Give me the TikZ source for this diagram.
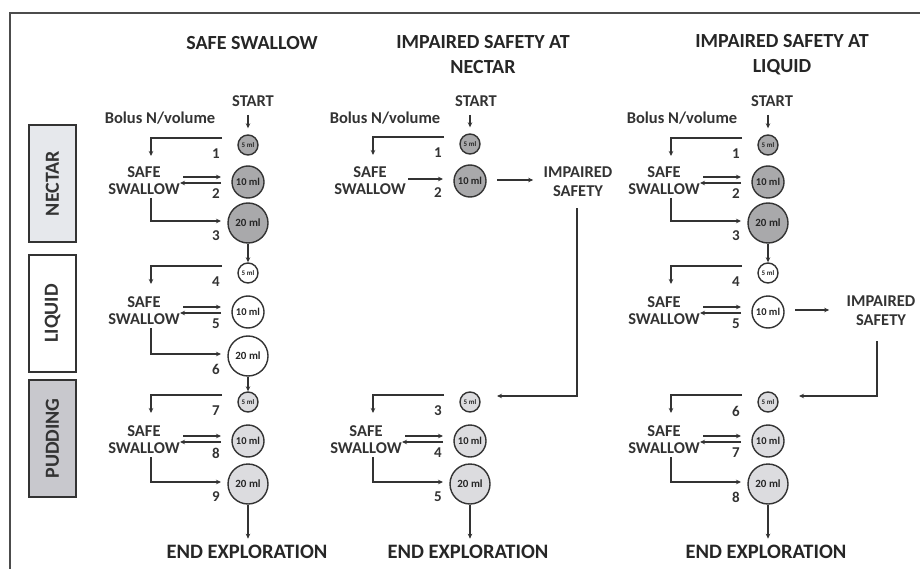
\documentclass[tikz,border=0pt]{standalone}
\usepackage{fontspec}
\setmainfont{Carlito}
\usetikzlibrary{arrows.meta,calc}
\definecolor{nec}{HTML}{A9A9AB}
\definecolor{pud}{HTML}{DCDCDF}
\definecolor{lnc}{HTML}{333333}
\definecolor{necbox}{HTML}{E6E8EC}
\definecolor{pudbox}{HTML}{C8C8CD}
\newcommand{\grp}[9]{%
 \node[circS,fill=#6] (#1s) at (#2,#3) {5 ml};
 \node[circM,fill=#6] (#1m) at (#2,#4) {10 ml};
 \node[circL,fill=#6] (#1l) at (#2,#5) {20 ml};
 \node[sw] (#1w) at ($(#1m)+(-104,-1)$) {SAFE\\SWALLOW};
 \node[num] (#1n1) at ($(#1s)+(-32,9)$) {#7};
 \node[num] (#1n2) at ($(#1m)+(-32,12)$) {#8};
 \node[num] (#1n3) at ($(#1l)+(-32,13)$) {#9};
 \draw[arr] ($(#1s)+(-26,-7)$) -| ($(#1s)+(-97,11)$);
 \draw[arr] ($(#1m)+(-65,-5)$) -- ($(#1m)+(-27,-5)$);
 \draw[arr] ($(#1m)+(-27,1)$) -- ($(#1m)+(-68,1)$);
 \draw[arr] ($(#1m)+(-97,16)$) |- ($(#1l)+(-27,-2)$);
}
\begin{document}
\begin{tikzpicture}[x=1pt,y=-1pt,
  lin/.style={draw=lnc, line width=1.2pt},
  arr/.style={lin, -{Stealth[length=5pt,width=4.5pt]}},
  cir/.style={circle, draw=lnc, line width=1.4pt, inner sep=0pt, text=black!85},
  circS/.style={cir, minimum size=20pt, font=\fontsize{7}{7}\selectfont\bfseries},
  circM/.style={cir, minimum size=32pt, font=\fontsize{10.5}{10}\selectfont\bfseries},
  circL/.style={cir, minimum size=40pt, font=\fontsize{11}{10}\selectfont\bfseries},
  ttl/.style={font=\fontsize{20}{25}\selectfont\bfseries, align=center, text=black!85},
  lbl/.style={font=\fontsize{16.5}{16}\selectfont\bfseries, text=black!80},
  sw/.style={font=\fontsize{16.5}{17}\selectfont\bfseries, align=center, text=black!80},
  imp/.style={font=\fontsize{16.5}{19}\selectfont\bfseries, align=center, text=black!80},
  num/.style={font=\fontsize{15}{15}\selectfont\bfseries, text=black!80},
  endt/.style={font=\fontsize{20.5}{20}\selectfont\bfseries, text=black!85},
  side/.style={draw=lnc, line width=1.5pt, minimum width=117pt, minimum height=47pt, rotate=90, font=\fontsize{20}{20}\selectfont\bfseries, text=black!80},
]
\useasboundingbox (0,0) rectangle (920,569);
% frame
\draw[draw=black!70, line width=1.4pt] (10,580) -- (10,13) -- (930,13);
% side boxes
\node[side, fill=necbox] (snec) at (52.5,183.5) {NECTAR};
\node[side, fill=white] (sliq) at (52.5,313.5) {LIQUID};
\node[side, fill=pudbox] (spud) at (52.5,438.5) {PUDDING};
% titles
\node[ttl] (t1) at (252,43) {SAFE SWALLOW};
\node[ttl] (t2) at (483,55) {IMPAIRED SAFETY AT\\NECTAR};
\node[ttl] (t3) at (782,55) {IMPAIRED SAFETY AT\\LIQUID};
% ---------- column 1
\node[lbl] (st1) at (253,101) {START};
\node[lbl] (bo1) at (160,118) {Bolus N/volume};
\grp{a}{248}{145}{182}{223}{nec}{1}{2}{3}
\grp{b}{248}{273}{312}{356}{white}{4}{5}{6}
\grp{c}{248}{402}{441}{484}{pud}{7}{8}{9}
\draw[arr, shorten <=5pt, shorten >=6pt] (st1.south -| as) -- (as.north);
\draw[arr] (al.south) -- (bs.north);
\draw[arr] (bl.south) -- (cs.north);
\node[endt] (en1) at (247,552) {END EXPLORATION};
\draw[arr] (cl.south) -- ($(cl.south |- en1.north)+(0,-3)$);
% ---------- column 2
\node[lbl] (st2) at (476,101) {START};
\node[lbl] (bo2) at (385,118) {Bolus N/volume};
\node[circS,fill=nec] (ds) at (470,144) {5 ml};
\node[circM,fill=nec] (dm) at (470,181) {10 ml};
\node[sw] (dw) at ($(dm)+(-100,0)$) {SAFE\\SWALLOW};
\node[num] (dn1) at ($(ds)+(-32,9)$) {1};
\node[num] (dn2) at ($(dm)+(-32,12)$) {2};
\draw[arr] ($(ds)+(-26,-7)$) -| ($(ds)+(-97,11)$);
\draw[arr] ($(dm)+(-62,-2)$) -- ($(dm)+(-27,-2)$);
\draw[arr, shorten <=5pt, shorten >=6pt] (st2.south -| ds) -- (ds.north);
\node[imp] (imp2) at (578,182) {IMPAIRED\\SAFETY};
\draw[arr] ($(dm)+(27,-1)$) -- ($(imp2.west)+(-7,-2)$);
\grp{e}{470}{402}{441}{484}{pud}{3}{4}{5}
\draw[arr] ($(imp2.south)+(-1,8)$) |- ($(es)+(27,-6)$);
\node[endt] (en2) at (468,552) {END EXPLORATION};
\draw[arr] (el.south) -- ($(el.south |- en2.north)+(0,-3)$);
% ---------- column 3
\node[lbl] (st3) at (772,101) {START};
\node[lbl] (bo3) at (682,118) {Bolus N/volume};
\grp{g}{768}{145}{182}{223}{nec}{1}{2}{3}
\node[circS,fill=white] (hs) at (768,273) {5 ml};
\node[circM,fill=white] (hm) at (768,312) {10 ml};
\node[sw] (hw) at ($(hm)+(-104,-1)$) {SAFE\\SWALLOW};
\node[num] (hn1) at ($(hs)+(-32,9)$) {4};
\node[num] (hn2) at ($(hm)+(-32,12)$) {5};
\draw[arr] ($(hs)+(-26,-7)$) -| ($(hs)+(-97,11)$);
\draw[arr] ($(hm)+(-65,-5)$) -- ($(hm)+(-27,-5)$);
\draw[arr] ($(hm)+(-27,1)$) -- ($(hm)+(-68,1)$);
\draw[arr, shorten <=5pt, shorten >=6pt] (st3.south -| gs) -- (gs.north);
\draw[arr] (gl.south) -- (hs.north);
\node[imp] (imp3) at (881,311) {IMPAIRED\\SAFETY};
\draw[arr] ($(hm)+(27,-2)$) -- ($(imp3.west)+(-14,-1)$);
\grp{i}{768}{402}{441}{484}{pud}{6}{7}{8}
\draw[arr] ($(imp3.south)+(-4,12)$) |- ($(is)+(31,-6)$);
\node[endt] (en3) at (766,552) {END EXPLORATION};
\draw[arr] (il.south) -- ($(il.south |- en3.north)+(0,-3)$);
\end{tikzpicture}
\end{document}
